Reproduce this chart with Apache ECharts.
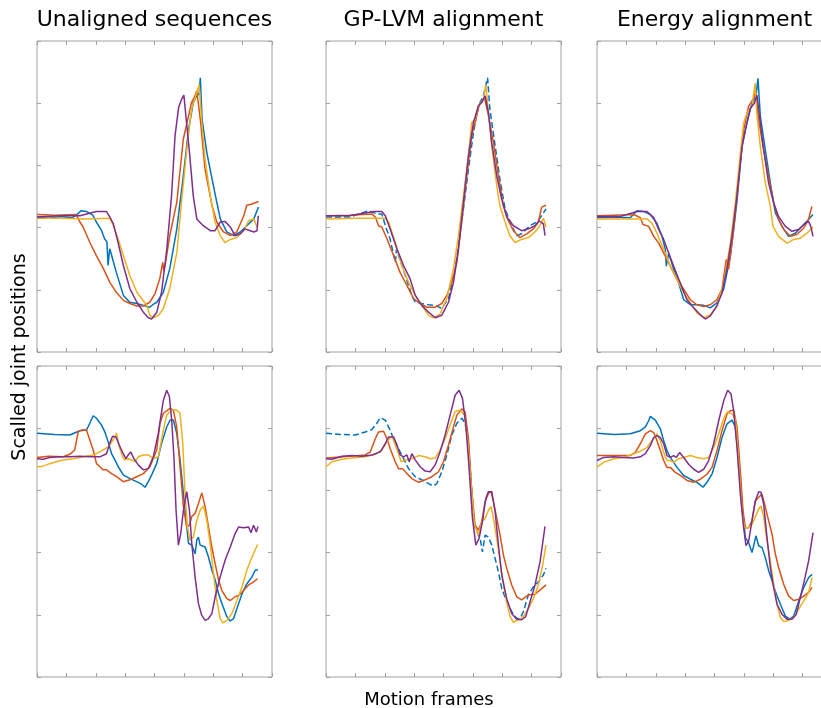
<!DOCTYPE html>
<html>
<head>
<meta charset="utf-8">
<script src="https://cdn.jsdelivr.net/npm/echarts@6/dist/echarts.min.js"></script>
<style>
html, body { margin: 0; padding: 0; background: #fff; }
#chart { width: 821px; height: 708px; }
</style>
</head>
<body>
<div id="chart"></div>
<script>
// panel titles and line colours (matlab default order)
var panelTitles = ['Unaligned sequences', 'GP-LVM alignment', 'Energy alignment'];
var lineColors = ['#0072BD', '#D95319', '#EDB120', '#7E2F8E'];
var xLabel = 'Motion frames';
var yLabel = 'Scalled joint positions';

// axis ranges (no tick labels in the original)
var xMax = 400, xStep = 50;
var yMax = 5, yStep = 1;

// ---- top row: joint 1 ----  [frame, value]
var uTopBlue = [[0,2.17],[20,2.15],[40,2.18],[60,2.16],[67,2.2],[75,2.27],[84,2.26],[95,2.2],[101,2.09],[110,1.95],[115,1.82],[119,1.77],[121,1.39],[123,1.6],[124,1.66],[130,1.45],[135,1.28],[147,0.91],[158,0.8],[170,0.78],[181,0.75],[192,0.72],[197,0.76],[204,0.8],[215,0.96],[226,1.34],[238,1.98],[249,2.83],[258,3.58],[266,4.01],[272,4.12],[276,4.15],[278,4.41],[281,3.74],[289,3.21],[298,2.78],[306,2.41],[312,2.14],[323,1.93],[335,1.87],[346,1.93],[357,2.03],[369,2.14],[377,2.33]];
var uTopOrange = [[0,2.21],[30,2.2],[67,2.21],[73,2.09],[78.5,2.01],[90,1.76],[101,1.55],[113,1.34],[124,1.12],[135,0.96],[147,0.83],[158,0.78],[170,0.74],[181,0.74],[192,0.8],[201,0.94],[209,1.18],[214,1.44],[216,1.3],[218,1.39],[226,1.87],[238,2.41],[249,3.42],[258,3.8],[263,4.01],[269,4.12],[272,4.2],[278,3.74],[286,2.94],[298,2.35],[306,2.09],[317.5,1.93],[329,1.87],[340,1.93],[352,2.19],[357,2.36],[366,2.38],[377,2.42]];
var uTopYellow = [[0,2.15],[40,2.15],[80,2.14],[124,2.15],[130,2.03],[138,1.82],[147,1.55],[158,1.23],[170,0.96],[178,0.86],[187,0.75],[192,0.59],[198,0.55],[207,0.59],[215,0.7],[226,1.02],[238,1.6],[246,2.41],[255,3.26],[263,3.9],[272,4.17],[276,4.3],[280.5,3.69],[286,3.1],[295,2.51],[303,2.09],[312,1.87],[320,1.76],[329,1.81],[340,1.84],[352,1.95],[360,2.11],[369,2.14],[374.5,2.01]];
var uTopPurple = [[0,2.17],[40,2.19],[73,2.19],[101,2.26],[118,2.26],[124,2.17],[130,2.06],[138,1.76],[147,1.39],[158,1.02],[170,0.8],[181,0.64],[189.5,0.55],[195,0.53],[204,0.64],[212,0.96],[221,1.66],[229,2.51],[235,3.48],[241,3.93],[246,4.06],[250,4.13],[254,3.74],[259.5,3.21],[266,2.51],[272,2.14],[283,2.03],[295,1.95],[303,1.95],[312,2.09],[320,2.1],[329,2.01],[337,1.87],[346,1.9],[354,1.98],[363,1.95],[369,1.93],[374.5,1.95],[376.7,2.19]];

var gTopBlue = [[0,2.17],[40,2.17],[72.5,2.27],[86.7,2.22],[95,2.22],[101,2.03],[109,1.82],[118,1.44],[120,1.65],[123.5,1.55],[135,1.23],[146,0.91],[152,0.8],[163,0.78],[174.5,0.76],[186,0.75],[197,0.7],[208.5,0.86],[220,1.34],[231,2.09],[242.5,2.94],[251,3.53],[259.5,3.96],[268,4.12],[275,4.41],[279,3.9],[287.8,3.32],[296,2.78],[304.8,2.3],[316,2.03],[324.6,1.87],[333,1.9],[347,2.03],[358.6,2.09],[367,2.19],[374.5,2.3]];
var gTopOrange = [[0,2.19],[40,2.2],[78,2.22],[84,2.17],[89.5,2.03],[95,2.01],[103.7,1.82],[115,1.55],[126,1.28],[137.7,1.07],[149,0.86],[160,0.78],[171.7,0.72],[186,0.72],[197,0.78],[205.7,0.91],[214,1.12],[222.7,1.44],[231,2.09],[239.7,2.83],[248,3.48],[253.8,3.69],[260.6,3.96],[269.7,4.09],[276.5,3.8],[285,3.37],[293.5,2.83],[302,2.35],[310.5,2.11],[319,1.95],[330,1.84],[341.6,1.9],[353,1.98],[361.5,2.09],[367,2.33],[374.5,2.36]];
var gTopYellow = [[0,2.14],[50,2.15],[101,2.15],[106.5,2.09],[118,1.76],[129,1.39],[140.5,1.12],[152,0.91],[163,0.75],[174.5,0.59],[183,0.55],[194,0.61],[205.7,0.86],[217,1.34],[225.5,1.87],[234,2.51],[242.5,3.16],[248,3.69],[253.8,3.74],[259.5,3.96],[268,4.06],[272,4.3],[276.5,3.85],[282,3.32],[290.7,2.67],[296,2.35],[304.8,2.09],[313,1.87],[321.8,1.76],[333,1.81],[344.5,1.84],[355.8,1.93],[364,2.03],[370,2.15],[374.5,2.01]];
var gTopPurple = [[0,2.19],[40,2.19],[81,2.26],[95,2.26],[101,2.19],[109,1.98],[120.7,1.66],[132,1.39],[143,1.18],[152,0.91],[163,0.75],[174.5,0.64],[186,0.55],[197,0.59],[208.5,0.8],[217,1.12],[225.5,1.66],[234,2.41],[242.5,3.16],[251,3.69],[259.5,3.96],[265,4.01],[270.8,4.12],[276.5,3.85],[282,3.37],[290.7,2.83],[299,2.46],[307.6,2.17],[319,2.03],[333,1.95],[344.5,1.98],[355.8,2.03],[362.6,2.11],[370,2.06],[372.8,1.87]];

var eTopBlue = [[0,2.16],[30,2.17],[56.7,2.16],[68,2.27],[79.4,2.26],[90.8,2.21],[102,2.07],[110.6,1.86],[116.3,1.65],[118,1.38],[122,1.59],[130.5,1.33],[139,1.11],[147.5,0.84],[158.9,0.76],[170,0.76],[181.6,0.75],[192.9,0.71],[204,0.79],[215.6,1.01],[227,1.54],[238,2.4],[246.8,3.3],[255,3.68],[263.8,4.0],[270.6,4.11],[274,4.4],[278,3.79],[286.5,3.25],[295,2.72],[303.5,2.24],[315,2.02],[326,1.86],[337.6,1.91],[349,2.02],[360,2.13],[367.7,2.21]];
var eTopOrange = [[0,2.19],[30,2.2],[62.4,2.21],[73.8,2.16],[78.3,2.05],[88,2.02],[96.5,1.86],[105,1.75],[113.5,1.59],[124.8,1.38],[136,1.17],[147.5,1.01],[158.9,0.84],[170,0.76],[181.6,0.73],[192.9,0.76],[204,0.84],[212.8,1.01],[220,1.49],[224,1.33],[232.6,1.97],[241,2.77],[249.6,3.57],[258,3.95],[266.7,4.08],[270,4.19],[275,3.73],[283.7,3.25],[292,2.82],[300.7,2.4],[309,2.13],[317.7,1.97],[329,1.86],[340,1.89],[351.8,1.99],[360,2.13],[365.7,2.34]];
var eTopYellow = [[0,2.14],[40,2.14],[85,2.14],[93.6,2.07],[102,1.91],[113.5,1.65],[124.8,1.38],[136,1.17],[147.5,0.95],[158.9,0.79],[170,0.63],[181.6,0.55],[192.9,0.6],[204,0.74],[215.6,1.11],[227,1.75],[235.5,2.4],[244,3.2],[249.6,3.68],[255,3.84],[263.8,3.95],[269,4.32],[272,3.84],[278,3.3],[286.5,2.72],[295,2.34],[299.6,2.02],[309,1.86],[323.4,1.75],[334.8,1.81],[346,1.83],[357.4,1.91],[367.7,2.01]];
var eTopPurple = [[0,2.18],[40,2.18],[68,2.26],[85,2.26],[96.5,2.16],[105,1.97],[113.5,1.81],[122,1.59],[130.5,1.38],[141.8,1.11],[153,0.84],[164.5,0.71],[175.9,0.6],[184.4,0.53],[192.9,0.58],[204,0.74],[212.8,0.95],[221,1.33],[229.8,1.86],[238,2.5],[246.8,3.3],[252.5,3.57],[261,3.92],[267.8,4.0],[272.3,4.13],[278,3.68],[283.7,3.25],[292,2.72],[300.7,2.4],[309,2.18],[320.6,2.02],[331.9,1.94],[343,1.97],[354.6,2.07],[360,2.1],[364,2.02],[367.7,1.86]];

// ---- bottom row: joint 2 ----
var uBotBlue = [[0,3.92],[30,3.9],[55.8,3.89],[72.8,3.96],[84.2,3.97],[89.9,4.08],[95.6,4.2],[101.3,4.16],[109.8,4.05],[115.5,3.94],[121.2,3.78],[126.9,3.59],[132.6,3.49],[138.3,3.38],[146.8,3.25],[158.2,3.19],[169.6,3.14],[178,3.1],[183.8,3.05],[189.5,3.14],[195.2,3.25],[203.7,3.43],[212.2,3.76],[220.8,4.02],[226.5,4.13],[232.1,4.13],[237.8,3.92],[243.5,3.49],[249.2,2.95],[253.8,2.52],[257.8,2.15],[263.4,2.12],[269.1,1.98],[272,2.2],[274.8,2.25],[277.7,2.12],[286.2,2.09],[291.9,1.93],[297.6,1.72],[303.3,1.56],[309,1.34],[314.7,1.18],[323.2,0.97],[328.9,0.9],[334.6,0.94],[340.3,1.1],[349,1.34],[357.3,1.5],[365.9,1.61],[371.6,1.72],[376.1,1.72]];
var uBotOrange = [[0,3.53],[20,3.55],[44.4,3.54],[55.8,3.58],[64.3,3.65],[70,3.94],[75.7,3.97],[84.2,3.97],[89.9,3.81],[95.6,3.65],[101.3,3.43],[107,3.38],[112.7,3.33],[118.3,3.33],[126.9,3.27],[135.4,3.22],[146.8,3.14],[158.2,3.17],[169.6,3.22],[181,3.27],[192.3,3.38],[203.7,3.65],[209.4,4.08],[215.1,4.24],[226.5,4.32],[232.1,4.29],[237.8,4.02],[243.5,3.38],[249.2,2.74],[254.9,2.41],[259.5,2.44],[263.4,2.58],[269.1,2.63],[274.8,2.79],[280.5,2.96],[286.2,2.74],[291.9,2.41],[297.6,2.09],[303.3,1.82],[309,1.56],[314.7,1.39],[323.2,1.26],[328.9,1.23],[337.4,1.29],[343.1,1.31],[351.6,1.39],[360.2,1.48],[368.7,1.53],[375.5,1.58]];
var uBotYellow = [[0,3.38],[10.2,3.39],[21.6,3.43],[33,3.46],[44.4,3.49],[61.5,3.51],[78.5,3.54],[95.6,3.57],[107,3.62],[121.2,3.7],[129.7,3.81],[135.4,3.92],[140,3.7],[145.7,3.54],[149.6,3.49],[155.3,3.51],[161,3.49],[166.7,3.46],[172.4,3.54],[181,3.57],[189.5,3.57],[198,3.51],[206.5,3.54],[215.1,3.97],[220.8,4.21],[229.3,4.3],[237.8,4.29],[243.5,4.24],[248.1,3.76],[252,2.95],[256,2.41],[260.6,2.2],[266.3,2.25],[272,2.52],[277.7,2.68],[283.4,2.75],[289,2.52],[294.7,2.15],[300.4,1.66],[306.1,1.23],[311.8,0.94],[316.4,0.87],[323.2,0.91],[331.7,1.02],[340.3,1.23],[349,1.45],[357.3,1.72],[365.9,1.93],[375.5,2.13]];
var uBotPurple = [[0,3.51],[10.2,3.5],[21.6,3.53],[38.7,3.54],[55.8,3.54],[72.8,3.55],[89.9,3.54],[107,3.54],[118.3,3.59],[124,3.76],[128.6,3.87],[134.3,3.86],[140,3.73],[146.8,3.59],[151.3,3.51],[155.3,3.57],[159.3,3.62],[165,3.51],[172.4,3.41],[181,3.33],[189.5,3.35],[198,3.54],[206.5,3.92],[215.1,4.45],[220.8,4.61],[225.3,4.51],[229.3,4.13],[233.3,3.49],[236.7,2.68],[240.7,2.12],[244.7,2.31],[249.2,2.68],[254.9,2.98],[259.5,2.68],[263.4,2.15],[269.1,1.61],[274.8,1.18],[280.5,0.99],[286.2,0.91],[291.9,0.94],[297.6,1.02],[303.3,1.29],[311.8,1.61],[320.3,1.88],[328.9,2.09],[337.4,2.31],[343.1,2.41],[351.6,2.4],[360.2,2.41],[364.2,2.32],[368.7,2.44],[373.3,2.33],[376.1,2.42]];

var gBotBlue = [[0,3.92],[25,3.9],[49.9,3.89],[66.9,3.94],[78.2,3.98],[86.7,4.08],[92.4,4.17],[100.8,4.13],[107.6,4.0],[115,3.83],[123.5,3.67],[132,3.51],[140.5,3.35],[151.8,3.22],[163.2,3.17],[174.5,3.11],[183,3.07],[188.7,3.11],[197.2,3.3],[205.7,3.57],[214.2,3.89],[222.7,4.08],[231.2,4.16],[236.8,4.08],[242.5,3.73],[248.2,2.98],[252.7,2.44],[256.7,2.34],[262.3,2.23],[266.3,2.01],[270.8,2.28],[276.5,2.25],[282.2,2.12],[287.8,1.91],[293.5,1.69],[299.2,1.42],[307.8,1.21],[316.1,1.05],[324.6,0.94],[330.3,0.94],[336,1.05],[344.5,1.32],[353,1.45],[361.5,1.53],[370,1.64],[374.5,1.75]];
var gBotOrange = [[0,3.52],[30,3.54],[66.9,3.57],[75.4,3.62],[83.9,3.83],[89.5,3.94],[98,3.95],[103.7,3.83],[109.3,3.67],[117.8,3.46],[123.5,3.35],[130.3,3.35],[137.7,3.27],[146.2,3.19],[157.5,3.13],[168.8,3.17],[180.2,3.22],[191.5,3.3],[200,3.46],[208.5,3.73],[217,4.02],[222.7,4.21],[231.2,4.31],[236.8,4.26],[242.5,3.83],[248.2,2.98],[253.8,2.44],[259.5,2.36],[265.2,2.5],[270.8,2.82],[276.5,2.95],[281,2.98],[285,2.82],[290.7,2.55],[296.3,2.28],[302,1.96],[307.6,1.75],[316.1,1.48],[324.6,1.29],[333.1,1.24],[344.5,1.32],[355.8,1.33],[367.1,1.42],[374.5,1.48]];
var gBotYellow = [[0,3.38],[10.2,3.46],[27.2,3.5],[44.2,3.52],[66.9,3.54],[83.9,3.58],[95.2,3.65],[103.7,3.78],[112.2,3.88],[117.8,3.73],[123.5,3.59],[128,3.46],[134.8,3.49],[146.2,3.51],[157.5,3.56],[168.8,3.54],[177.3,3.51],[185.8,3.52],[194.3,3.65],[202.8,3.83],[211.3,4.05],[219.8,4.27],[228.3,4.29],[235.7,4.21],[241.4,3.78],[247,3.09],[252.7,2.44],[259.5,2.28],[265.2,2.5],[270.8,2.55],[276.5,2.68],[281,2.74],[285,2.55],[290.7,2.23],[296.3,1.85],[302,1.48],[307.6,1.21],[313.3,0.97],[319,0.88],[327.5,0.92],[336,0.97],[344.5,1.1],[353,1.26],[361.5,1.48],[368.8,1.8],[374.5,2.12]];
var gBotPurple = [[0,3.51],[10.2,3.5],[27.2,3.55],[44.2,3.56],[61.2,3.55],[78.2,3.57],[92.4,3.62],[100.8,3.75],[106.5,3.86],[115,3.86],[120.7,3.73],[126.3,3.57],[132,3.54],[137.7,3.57],[141.6,3.46],[146.2,3.59],[151.8,3.49],[160.3,3.38],[168.8,3.31],[177.3,3.3],[185.8,3.41],[194.3,3.62],[202.8,3.89],[211.3,4.21],[219.8,4.53],[226.6,4.61],[232.3,4.48],[238,4.05],[243.6,3.35],[249.3,2.55],[255,2.12],[260.6,2.23],[266.3,2.5],[272,2.87],[276.5,2.98],[282.2,2.98],[287.8,2.66],[293.5,2.12],[299.2,1.64],[307.6,1.26],[316.1,1.02],[324.6,0.93],[333.1,0.92],[340,0.97],[347.3,1.21],[355.8,1.48],[364.3,1.85],[372.8,2.42]];

var eBotBlue = [[0,3.92],[30,3.9],[56.7,3.91],[73.8,3.96],[82.3,4.02],[87.9,4.12],[90.8,4.19],[99.3,4.13],[107.8,3.99],[113.5,3.8],[119.1,3.64],[124.8,3.53],[136.2,3.37],[147.5,3.24],[158.9,3.18],[170.2,3.13],[180.4,3.05],[187.2,3.13],[195.7,3.26],[204.3,3.53],[212.8,3.85],[221.3,4.07],[229.8,4.13],[235.5,4.02],[241.1,3.48],[246.8,2.78],[252.5,2.24],[258.2,2.16],[263.8,2.0],[266.7,2.03],[270.6,2.27],[275.2,2.11],[280.9,2.08],[286.5,1.92],[292.2,1.71],[297.9,1.55],[303.5,1.38],[312.1,1.17],[320.6,0.98],[327.9,0.93],[334.8,0.98],[343.3,1.22],[351.8,1.44],[360.3,1.6],[366,1.65]];
var eBotOrange = [[0,3.56],[30,3.56],[56.7,3.56],[65.2,3.61],[73.8,3.75],[82.3,3.91],[90.8,3.96],[96.5,3.93],[102.1,3.8],[107.8,3.64],[113.5,3.48],[119.1,3.37],[124.8,3.37],[133.3,3.29],[141.8,3.24],[153.2,3.16],[164.5,3.13],[175.9,3.18],[187.2,3.26],[195.7,3.37],[204.3,3.64],[212.8,3.96],[221.3,4.23],[227,4.28],[232.6,4.29],[238.3,4.02],[244,3.32],[248.5,2.67],[252.5,2.4],[258.2,2.4],[263.8,2.51],[269.5,2.83],[275.2,2.89],[280.9,2.94],[286.5,2.73],[292.2,2.51],[297.9,2.3],[303.5,1.98],[309.2,1.76],[317.7,1.49],[326.2,1.3],[334.8,1.23],[343.3,1.25],[351.8,1.3],[360.3,1.36],[366,1.44]];
var eBotYellow = [[0,3.38],[11.3,3.45],[28.4,3.51],[45.4,3.53],[62.4,3.59],[73.8,3.63],[85.1,3.69],[93.6,3.8],[102.1,3.91],[107.8,3.8],[113.5,3.61],[119.1,3.48],[124.8,3.48],[130.5,3.45],[139,3.51],[147.5,3.53],[158.9,3.56],[170.2,3.53],[181.6,3.51],[190.1,3.53],[198.6,3.69],[207.1,3.91],[215.6,4.15],[221.3,4.26],[229.8,4.23],[235.5,4.15],[241.1,3.48],[246.8,2.67],[250.8,2.4],[258.2,2.4],[263.8,2.46],[269.5,2.57],[275.2,2.7],[279.1,2.75],[283.7,2.57],[289.4,2.19],[295,1.87],[300.7,1.49],[306.4,1.17],[312.1,0.96],[317.7,0.89],[326.2,0.91],[334.8,0.96],[343.3,1.09],[351.8,1.22],[360.3,1.36],[366,1.6]];
var eBotPurple = [[0,3.48],[11.3,3.53],[28.4,3.54],[45.4,3.53],[62.4,3.52],[73.8,3.54],[82.3,3.59],[90.8,3.72],[96.5,3.85],[102.1,3.88],[107.8,3.85],[113.5,3.75],[119.1,3.56],[124.8,3.53],[130.5,3.56],[135,3.53],[140.7,3.61],[147.5,3.53],[156,3.42],[164.5,3.34],[173,3.29],[181.6,3.34],[190.1,3.48],[198.6,3.75],[207.1,4.12],[215.6,4.44],[222.4,4.61],[228.1,4.55],[232.6,4.28],[238.3,3.69],[244,2.94],[249.6,2.4],[253.6,2.11],[258.2,2.19],[263.8,2.51],[269.5,2.83],[275.2,2.98],[279.1,2.97],[283.7,2.78],[289.4,2.24],[295,1.76],[300.7,1.44],[306.4,1.17],[314.9,1.01],[323.4,0.93],[331.9,0.93],[339.3,1.01],[346.1,1.28],[352.9,1.55],[360.3,1.87],[367.7,2.32]];

// panels in reading order
var panels = [
    [uTopBlue, uTopOrange, uTopYellow, uTopPurple],
    [gTopBlue, gTopOrange, gTopYellow, gTopPurple],
    [eTopBlue, eTopOrange, eTopYellow, eTopPurple],
    [uBotBlue, uBotOrange, uBotYellow, uBotPurple],
    [gBotBlue, gBotOrange, gBotYellow, gBotPurple],
    [eBotBlue, eBotOrange, eBotYellow, eBotPurple]
];

var colLeft = [37, 326, 597];
var rowTop = [41, 366];
var panelW = 235, panelH = 311;
var boxColor = '#a3a3a3';

var grids = [], xAxes = [], yAxes = [], series = [];

function tickAxis(gi, pos, isX) {
    return {
        gridIndex: gi,
        type: 'value',
        position: pos,
        min: 0,
        max: isX ? xMax : yMax,
        interval: isX ? xStep : yStep,
        axisLine: { show: false, onZero: false },
        axisTick: { show: true, inside: true, length: 4, lineStyle: { color: boxColor, width: 1 } },
        axisLabel: { show: false },
        splitLine: { show: false }
    };
}

for (var p = 0; p < panels.length; p++) {
    var row = Math.floor(p / 3), col = p % 3;
    grids.push({
        left: colLeft[col], top: rowTop[row], width: panelW, height: panelH,
        outerBoundsMode: 'none',
        containLabel: false,
        show: true, borderColor: boxColor, borderWidth: 1, backgroundColor: '#fff'
    });
    xAxes.push(tickAxis(p, 'bottom', true));
    xAxes.push(tickAxis(p, 'top', true));
    yAxes.push(tickAxis(p, 'left', false));
    yAxes.push(tickAxis(p, 'right', false));

    for (var k = 0; k < 4; k++) {
        var dashed = (col == 1 && k == 0);   // GP-LVM reference sequence is dashed
        series.push({
            type: 'line',
            xAxisIndex: p * 2,
            yAxisIndex: p * 2,
            data: panels[p][k],
            showSymbol: false,
            symbol: 'none',
            silent: true,
            clip: true,
            lineStyle: { color: lineColors[k], width: 1.5, type: dashed ? [6, 3] : 'solid' },
            z: 2 + k
        });
    }
}

var font = 'DejaVu Sans, Verdana, sans-serif';
var texts = [];
for (var c = 0; c < 3; c++) {
    texts.push({
        type: 'text', x: colLeft[c] + panelW / 2, y: 20,
        style: { text: panelTitles[c], font: '22px ' + font, fill: '#000', textAlign: 'center', textVerticalAlign: 'middle' }
    });
}
texts.push({
    type: 'text', x: 429, y: 700,
    style: { text: xLabel, font: '18px ' + font, fill: '#000', textAlign: 'center', textVerticalAlign: 'middle' }
});
texts.push({
    type: 'text', x: 20, y: 357, rotation: Math.PI / 2,
    style: { text: yLabel, font: '19px ' + font, fill: '#000', textAlign: 'center', textVerticalAlign: 'middle' }
});

var myChart = echarts.init(document.getElementById('chart'), null, { renderer: 'canvas' });
var option = {
    animation: false,
    backgroundColor: '#fff',
    grid: grids,
    xAxis: xAxes,
    yAxis: yAxes,
    series: series,
    graphic: texts
};
myChart.setOption(option);
</script>
</body>
</html>
